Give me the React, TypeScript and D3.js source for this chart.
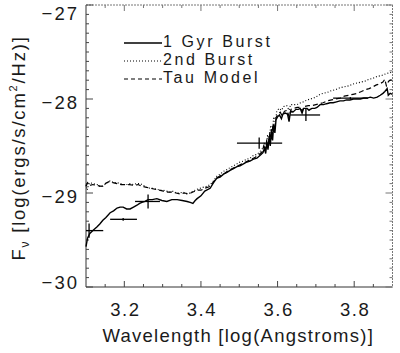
import React, { useEffect, useRef } from 'react';
import * as d3 from 'd3';

// spectra: [log wavelength, log flux]
const burst1Gyr: [number, number][] = [
  [3.100, -29.57], [3.104, -29.48], [3.110, -29.43], [3.118, -29.40], [3.129, -29.36], [3.136, -29.33],
  [3.144, -29.29], [3.152, -29.26], [3.163, -29.21], [3.172, -29.19], [3.181, -29.16], [3.189, -29.15],
  [3.197, -29.15], [3.206, -29.17], [3.215, -29.17], [3.224, -29.15], [3.233, -29.13], [3.240, -29.11],
  [3.246, -29.10], [3.254, -29.09], [3.262, -29.07], [3.273, -29.07], [3.285, -29.06], [3.298, -29.08],
  [3.311, -29.09], [3.324, -29.07], [3.338, -29.07], [3.351, -29.08], [3.364, -29.09], [3.372, -29.10],
  [3.379, -29.11], [3.385, -29.08], [3.390, -29.06], [3.400, -29.03], [3.410, -28.98], [3.424, -28.95],
  [3.433, -28.89], [3.442, -28.84], [3.450, -28.83], [3.459, -28.80], [3.468, -28.78], [3.476, -28.76],
  [3.485, -28.74], [3.494, -28.72], [3.502, -28.71], [3.511, -28.69], [3.520, -28.67], [3.528, -28.66],
  [3.537, -28.64], [3.546, -28.63], [3.554, -28.60], [3.562, -28.57], [3.566, -28.52], [3.569, -28.58],
  [3.572, -28.46], [3.575, -28.54], [3.578, -28.40], [3.581, -28.50], [3.584, -28.33], [3.587, -28.44],
  [3.590, -28.27], [3.593, -28.36], [3.596, -28.22], [3.600, -28.19], [3.605, -28.17], [3.610, -28.21],
  [3.614, -28.16], [3.620, -28.15], [3.626, -28.16], [3.630, -28.24], [3.633, -28.15], [3.637, -28.13],
  [3.640, -28.14], [3.648, -28.11], [3.654, -28.11], [3.659, -28.10], [3.664, -28.15], [3.668, -28.10],
  [3.672, -28.10], [3.677, -28.10], [3.682, -28.12], [3.685, -28.11], [3.690, -28.10], [3.697, -28.10],
  [3.703, -28.09], [3.711, -28.06], [3.720, -28.06], [3.728, -28.05], [3.737, -28.04], [3.745, -28.04],
  [3.754, -28.03], [3.763, -28.02], [3.772, -28.02], [3.780, -28.01], [3.789, -28.01], [3.798, -28.00],
  [3.808, -28.00], [3.816, -28.00], [3.825, -27.99], [3.834, -27.99], [3.842, -27.98], [3.851, -27.99],
  [3.860, -27.98], [3.868, -27.96], [3.875, -27.94], [3.880, -27.92], [3.886, -27.89], [3.889, -27.96],
  [3.894, -27.94], [3.900, -27.95],
];

const burst2nd: [number, number][] = [
  [3.100, -28.91], [3.103, -28.97], [3.106, -28.92], [3.110, -28.89], [3.118, -28.90], [3.129, -28.91],
  [3.136, -28.93], [3.144, -28.93], [3.152, -28.90], [3.158, -28.88], [3.163, -28.87], [3.172, -28.89],
  [3.181, -28.89], [3.190, -28.90], [3.198, -28.91], [3.207, -28.91], [3.215, -28.90], [3.224, -28.91],
  [3.232, -28.90], [3.241, -28.90], [3.250, -28.92], [3.258, -28.94], [3.267, -28.95], [3.276, -28.95],
  [3.285, -28.96], [3.293, -28.97], [3.302, -28.97], [3.310, -28.98], [3.319, -28.99], [3.328, -28.98],
  [3.336, -29.00], [3.345, -29.00], [3.354, -28.99], [3.363, -29.01], [3.372, -29.00], [3.380, -28.98],
  [3.390, -28.96], [3.398, -28.95], [3.405, -28.94], [3.414, -28.93], [3.424, -28.91], [3.433, -28.87],
  [3.442, -28.82], [3.450, -28.80], [3.459, -28.77], [3.468, -28.75], [3.476, -28.73], [3.485, -28.71],
  [3.494, -28.69], [3.502, -28.67], [3.511, -28.66], [3.520, -28.64], [3.528, -28.63], [3.537, -28.60],
  [3.546, -28.59], [3.554, -28.56], [3.562, -28.52], [3.566, -28.46], [3.570, -28.53], [3.574, -28.38],
  [3.578, -28.46], [3.582, -28.28], [3.586, -28.36], [3.590, -28.19], [3.594, -28.25], [3.598, -28.13],
  [3.604, -28.10], [3.610, -28.12], [3.616, -28.08], [3.624, -28.07], [3.630, -28.12], [3.634, -28.06],
  [3.642, -28.06], [3.651, -28.06], [3.660, -28.04], [3.668, -28.03], [3.677, -28.01], [3.686, -28.00],
  [3.694, -27.99], [3.703, -27.97], [3.711, -27.95], [3.719, -27.94], [3.730, -27.93], [3.741, -27.91],
  [3.752, -27.90], [3.763, -27.88], [3.774, -27.87], [3.786, -27.86], [3.797, -27.84], [3.808, -27.83],
  [3.818, -27.82], [3.828, -27.81], [3.839, -27.79], [3.849, -27.78], [3.860, -27.76], [3.872, -27.75],
  [3.883, -27.73], [3.894, -27.72], [3.900, -27.71],
];

const tauModel: [number, number][] = [
  [3.100, -28.93], [3.104, -28.89], [3.110, -28.92], [3.118, -28.91], [3.129, -28.92], [3.140, -28.93],
  [3.150, -28.90], [3.160, -28.88], [3.170, -28.89], [3.181, -28.90], [3.192, -28.91], [3.203, -28.91],
  [3.214, -28.91], [3.225, -28.92], [3.236, -28.91], [3.247, -28.93], [3.258, -28.94], [3.269, -28.95],
  [3.280, -28.96], [3.291, -28.97], [3.302, -28.98], [3.313, -28.99], [3.324, -28.99], [3.335, -29.00],
  [3.346, -29.01], [3.357, -29.00], [3.368, -29.01], [3.379, -28.99], [3.390, -28.97], [3.400, -28.97],
  [3.410, -28.95], [3.424, -28.93], [3.433, -28.88], [3.442, -28.84], [3.452, -28.81], [3.462, -28.79],
  [3.472, -28.76], [3.482, -28.74], [3.492, -28.72], [3.502, -28.70], [3.512, -28.68], [3.522, -28.66],
  [3.532, -28.64], [3.542, -28.62], [3.552, -28.59], [3.560, -28.56], [3.564, -28.50], [3.568, -28.56],
  [3.572, -28.43], [3.576, -28.52], [3.580, -28.35], [3.584, -28.44], [3.588, -28.27], [3.592, -28.34],
  [3.596, -28.20], [3.601, -28.16], [3.607, -28.14], [3.612, -28.18], [3.618, -28.13], [3.625, -28.12],
  [3.630, -28.19], [3.635, -28.11], [3.642, -28.10], [3.651, -28.09], [3.660, -28.09], [3.664, -28.13],
  [3.670, -28.08], [3.680, -28.07], [3.690, -28.07], [3.700, -28.06], [3.710, -28.05], [3.719, -28.04],
  [3.730, -28.02], [3.741, -28.01], [3.752, -28.00], [3.763, -27.99], [3.774, -27.97], [3.786, -27.96],
  [3.797, -27.95], [3.808, -27.94], [3.819, -27.92], [3.829, -27.90], [3.839, -27.89], [3.849, -27.87],
  [3.858, -27.85], [3.866, -27.84], [3.875, -27.82], [3.880, -27.79], [3.884, -27.86], [3.890, -27.81],
  [3.894, -27.80], [3.900, -27.80],
];

// broadband photometry (bandpass range + flux error)
const photWave = [3.108, 3.197, 3.262, 3.552, 3.674, 3.790];
const photLo = [3.100, 3.163, 3.228, 3.494, 3.633, 3.745];
const photHi = [3.145, 3.233, 3.293, 3.612, 3.711, 3.836];
const photFlux = [-29.40, -29.28, -29.09, -28.47, -28.17, -27.99];
const photErr = [0.075, 0.015, 0.075, 0.06, 0.065, 0.01];

const legendLabels = ['1 Gyr Burst', '2nd Burst', 'Tau Model'];
const xTicks = [3.2, 3.4, 3.6, 3.8];
const yTicks = [-30, -29, -28, -27];

const App = () => {
  const ref = useRef<SVGSVGElement>(null);

  useEffect(() => {
    const W = 400, H = 353;
    const m = { left: 86, right: 392.5, top: 5, bottom: 287 };
    const font = '"Liberation Sans", Arial, sans-serif';
    const ink = '#1a1a1a';

    const x = d3.scaleLinear().domain([3.1, 3.9]).range([m.left, m.right]);
    const y = d3.scaleLinear().domain([-30, -27]).range([m.bottom, m.top]);

    const svg = d3.select(ref.current);
    svg.selectAll('*').remove();
    svg.attr('width', W).attr('height', H);

    svg.append('rect').attr('width', W).attr('height', H).attr('fill', 'white');

    // frame
    const g = svg.append('g');
    g.append('line').attr('x1', m.left).attr('x2', m.left).attr('y1', m.top).attr('y2', m.bottom)
      .attr('stroke', '#333').attr('stroke-width', 1);
    g.append('line').attr('x1', m.left).attr('x2', m.right).attr('y1', m.bottom).attr('y2', m.bottom)
      .attr('stroke', '#333').attr('stroke-width', 1);
    g.append('line').attr('x1', m.left).attr('x2', m.right).attr('y1', m.top).attr('y2', m.top)
      .attr('stroke', '#777').attr('stroke-width', 1).attr('stroke-dasharray', '2,1');
    g.append('line').attr('x1', m.right).attr('x2', m.right).attr('y1', m.top).attr('y2', m.bottom)
      .attr('stroke', '#777').attr('stroke-width', 1).attr('stroke-dasharray', '2,1');

    // ticks (inward, on all four sides)
    const xMinor = d3.range(3.15, 3.9, 0.05).filter(v => !xTicks.some(t => Math.abs(t - v) < 1e-6));
    const yMinor = d3.range(-29.9, -27, 0.1).filter(v => !yTicks.some(t => Math.abs(t - v) < 1e-6));
    const tickLines = (vals: number[], len: number) => {
      vals.forEach(v => {
        const px = x(v);
        g.append('line').attr('x1', px).attr('x2', px).attr('y1', m.bottom).attr('y2', m.bottom - len)
          .attr('stroke', '#444').attr('stroke-width', 1);
        g.append('line').attr('x1', px).attr('x2', px).attr('y1', m.top).attr('y2', m.top + len)
          .attr('stroke', '#777').attr('stroke-width', 1);
      });
    };
    tickLines(xTicks, 6);
    tickLines(xMinor, 3);
    const yTickLines = (vals: number[], len: number) => {
      vals.forEach(v => {
        const py = y(v);
        g.append('line').attr('x1', m.left).attr('x2', m.left + len).attr('y1', py).attr('y2', py)
          .attr('stroke', '#444').attr('stroke-width', 1);
        g.append('line').attr('x1', m.right).attr('x2', m.right - len).attr('y1', py).attr('y2', py)
          .attr('stroke', '#777').attr('stroke-width', 1);
      });
    };
    yTickLines(yTicks, 7);
    yTickLines(yMinor, 3);

    // tick labels
    svg.selectAll('.xlab').data(xTicks).enter().append('text')
      .attr('x', d => x(d) + 1).attr('y', 316)
      .attr('text-anchor', 'middle').attr('font-family', font).attr('font-size', 18.5)
      .attr('letter-spacing', 1.5).attr('fill', ink)
      .text(d => d.toFixed(1));
    svg.selectAll('.ylab').data(yTicks).enter().append('text')
      .attr('x', 79).attr('y', d => Math.min(Math.max(y(d) + 3, 13), 282)).attr('dy', '0.36em')
      .attr('text-anchor', 'end').attr('font-family', font).attr('font-size', 18.5)
      .attr('letter-spacing', 2).attr('fill', ink)
      .text(d => '\u2212' + Math.abs(d));

    // axis titles
    svg.append('text').attr('x', (m.left + m.right) / 2 - 1).attr('y', 341.5)
      .attr('text-anchor', 'middle').attr('font-family', font).attr('font-size', 18.5)
      .attr('letter-spacing', 1.25).attr('fill', ink)
      .text('Wavelength [log(Angstroms)]');

    const yt = svg.append('text').attr('transform', `translate(25,${(m.top + m.bottom) / 2 + 2}) rotate(-90)`)
      .attr('text-anchor', 'middle').attr('font-family', font).attr('font-size', 18.5)
      .attr('letter-spacing', 1.8).attr('fill', ink);
    yt.append('tspan').text('F');
    yt.append('tspan').attr('font-size', 12).attr('dy', 4).text('\u03bd');
    yt.append('tspan').attr('dy', -4).text(' [log(ergs/s/cm');
    yt.append('tspan').attr('font-size', 11).attr('dy', -8).text('2');
    yt.append('tspan').attr('dy', 8).text('/Hz)]');

    // spectra
    const line = d3.line<[number, number]>().x(d => x(d[0])).y(d => y(d[1]));
    const series = [
      { data: burst2nd, dash: '1,2', width: 1.1 },
      { data: tauModel, dash: '5,3', width: 1.2 },
      { data: burst1Gyr, dash: null, width: 1.4 },
    ];
    series.forEach(s => {
      svg.append('path').datum(s.data).attr('d', line)
        .attr('fill', 'none').attr('stroke', '#000').attr('stroke-width', s.width)
        .attr('stroke-dasharray', s.dash);
    });

    // photometry crosses
    const ph = svg.append('g').attr('stroke', '#000').attr('stroke-width', 1.3);
    photWave.forEach((w, i) => {
      ph.append('line').attr('x1', x(photLo[i])).attr('x2', x(photHi[i]))
        .attr('y1', y(photFlux[i])).attr('y2', y(photFlux[i]));
      ph.append('line').attr('x1', x(w)).attr('x2', x(w))
        .attr('y1', y(photFlux[i] - photErr[i])).attr('y2', y(photFlux[i] + photErr[i]));
    });

    // legend
    const dashes = [null, '1,2', '4,3'];
    legendLabels.forEach((lab, i) => {
      const by = 47 + i * 18;
      svg.append('line').attr('x1', 124).attr('x2', 162).attr('y1', by - 4).attr('y2', by - 4)
        .attr('stroke', '#000').attr('stroke-width', i === 0 ? 1.4 : 1.1)
        .attr('stroke-dasharray', dashes[i]);
      svg.append('text').attr('x', 163).attr('y', by)
        .attr('font-family', font).attr('font-size', 16).attr('letter-spacing', 2.6)
        .attr('fill', ink).text(lab);
    });
  }, []);

  return <svg ref={ref} style={{ position: 'absolute', left: 0, top: 0 }} />;
};

export default App;
